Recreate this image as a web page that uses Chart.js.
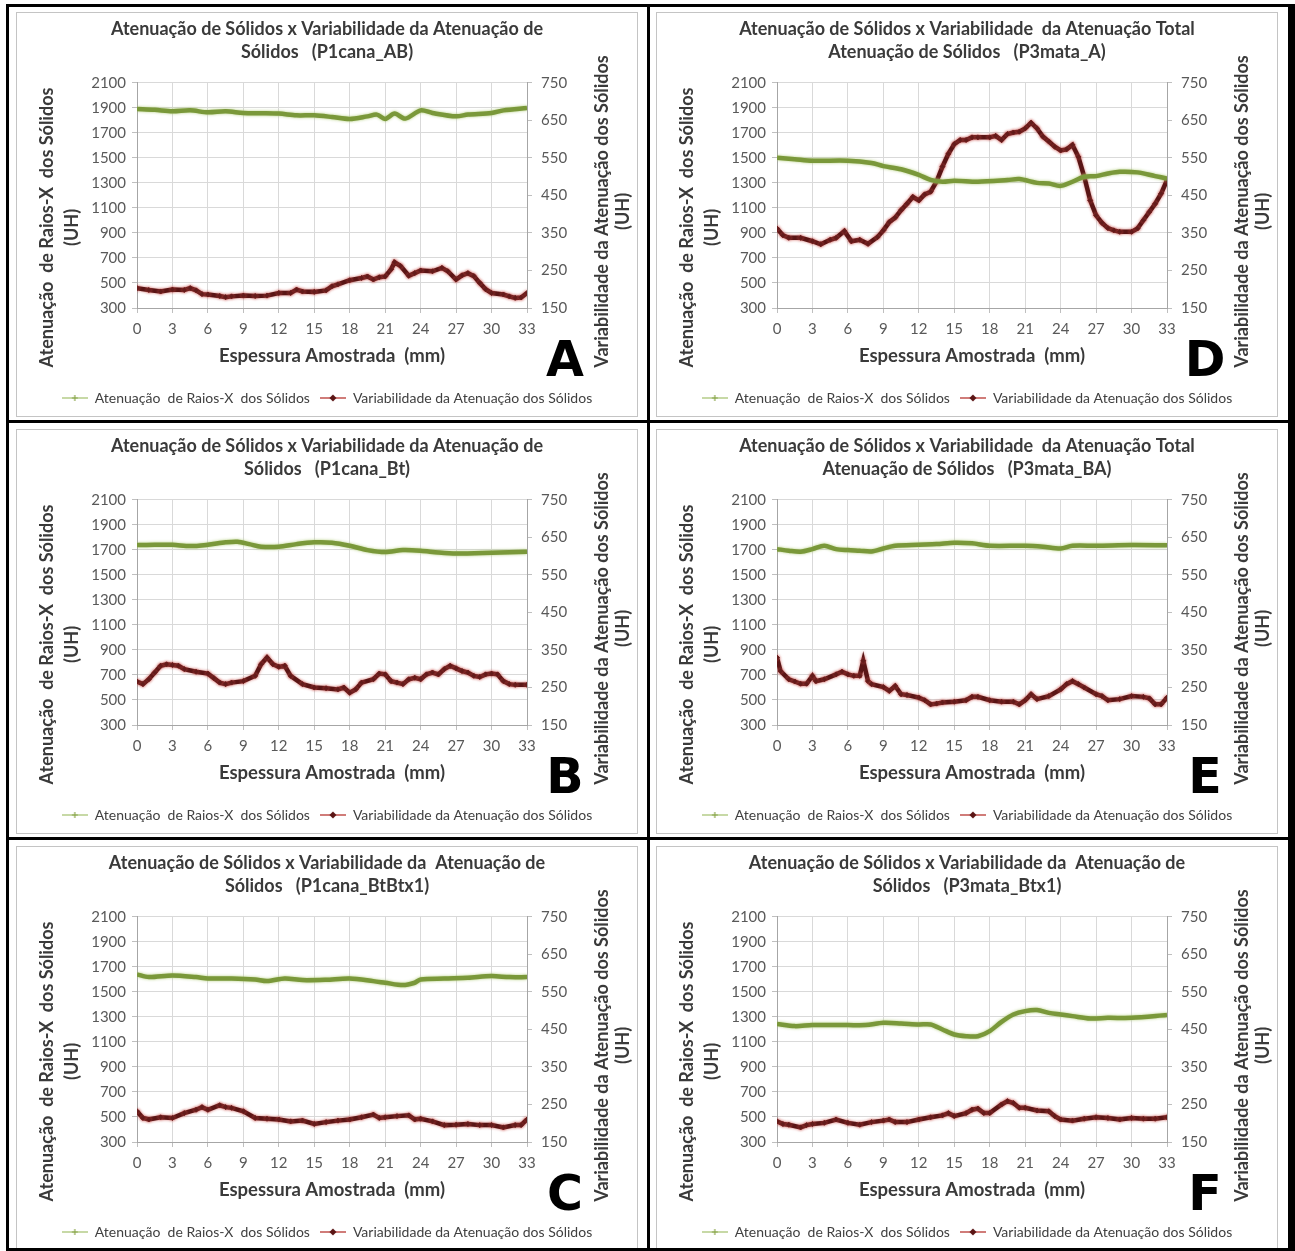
<!DOCTYPE html>
<html>
<head>
<meta charset="utf-8">
<script src="https://cdn.jsdelivr.net/npm/chart.js@4.4.1/dist/chart.umd.min.js"></script>
<style>
  body { margin: 0; background: #fff; }
  #page { position: relative; width: 1295px; height: 1251px; overflow: hidden; }
  .bl { position: absolute; background: #000; z-index: 5; }
  .box { position: absolute; width: 620px; height: 403px; border: 1px solid #c4c4c4; background: #fff; }
  .box canvas { display: block; }
</style>
</head>
<body>
<div id="page">
  <div class="bl" style="left:6px;top:4px;width:1289px;height:3px"></div>
  <div class="bl" style="left:6px;top:4px;width:3px;height:1247px"></div>
  <div class="bl" style="left:1288px;top:4px;width:7px;height:1247px"></div>
  <div class="bl" style="left:647px;top:4px;width:3px;height:1247px"></div>
  <div class="bl" style="left:6px;top:420px;width:1289px;height:3px"></div>
  <div class="bl" style="left:6px;top:837px;width:1289px;height:3px"></div>
  <div class="bl" style="left:6px;top:1248px;width:1289px;height:3px"></div>

  <div class="box" style="left:16px;top:12px"><canvas id="cA" width="620" height="403"></canvas></div>
  <div class="box" style="left:656px;top:12px"><canvas id="cD" width="620" height="403"></canvas></div>
  <div class="box" style="left:16px;top:429px"><canvas id="cB" width="620" height="403"></canvas></div>
  <div class="box" style="left:656px;top:429px"><canvas id="cE" width="620" height="403"></canvas></div>
  <div class="box" style="left:16px;top:846px"><canvas id="cC" width="620" height="403"></canvas></div>
  <div class="box" style="left:656px;top:846px"><canvas id="cF" width="620" height="403"></canvas></div>
</div>
<script>
// === Dados (verde: eixo esquerdo, vermelho: eixo direito) ===
const xTicks = [0, 3, 6, 9, 12, 15, 18, 21, 24, 27, 30, 33];
const leftTicks = [300, 500, 700, 900, 1100, 1300, 1500, 1700, 1900, 2100];
const rightTicks = [150, 250, 350, 450, 550, 650, 750];

// A - P1cana_AB
const aGreenX = [0,1.5,3,4.5,6,7.5,9,10.5,12,13.5,15,16.5,18,19.5,20.3,21,21.8,22.7,24,25,27,28,30,31,33];
const aGreen = [1892,1885,1873,1881,1865,1873,1860,1858,1855,1841,1841,1828,1812,1833,1847,1812,1855,1815,1881,1860,1833,1847,1860,1881,1900];
const aRedX = [0,1,2,3,4,4.5,5,5.5,6,7,7.5,8,9,10,11,12,13,13.5,14,15,16,16.5,17,18,19,19.5,20,20.5,21,21.5,21.8,22.3,23,23.5,24,25,25.8,26.3,27,27.5,28,28.5,29,29.5,30,31,31.5,32,32.5,33];
const aRed = [203,198,194,199,198,203,197,187,186,182,179,181,183,182,183,190,190,199,194,193,197,208,213,224,230,234,226,232,234,253,272,262,236,243,250,248,257,248,226,237,243,235,217,200,190,186,181,177,178,190];

// B - P1cana_Bt
const bGreenX = [0,1.5,3,4.5,6,7.5,8.5,9.5,10.5,12,13.5,15,16.5,18,19.5,21,22.5,24,25.5,27,30,33];
const bGreen = [1739,1742,1742,1731,1742,1761,1766,1747,1726,1726,1747,1761,1758,1734,1699,1683,1699,1694,1680,1672,1678,1686];
const bRedX = [0,0.5,1,1.5,2,2.5,3,3.5,4,5,6,6.5,7,7.5,8,9,10,10.5,11,11.5,12,12.5,13,14,15,16,17,17.5,18,18.5,19,20,20.5,21,21.5,22,22.5,23,23.5,24,24.5,25,25.5,26,26.5,27,27.5,28,28.5,29,29.5,30,30.5,31,31.5,32,33];
const bRed = [266,259,272,290,308,312,310,308,299,292,287,275,263,259,263,267,281,312,330,312,305,308,281,259,250,248,245,250,236,245,263,272,287,285,267,263,259,272,276,272,285,290,285,299,308,301,294,290,281,278,285,287,285,267,259,257,257];

// C - P1cana_BtBtx1
const cGreenX = [0,1,3,5,6,8,10,11,12.5,14,16,18,20,21,22.5,23.5,24,26,28,30,31.5,33];
const cGreen = [1640,1619,1632,1619,1608,1608,1600,1587,1608,1595,1598,1608,1587,1574,1555,1574,1600,1608,1614,1627,1619,1619];
const cRedX = [0,0.5,1,2,3,4,5,5.5,6,7,7.5,8,9,10,11,12,13,14,15,16,17,18,19,20,20.5,21,22,23,23.5,24,25,26,27,28,29,30,31,32,32.5,33];
const cRed = [232,214,210,216,214,227,236,243,236,248,243,241,232,214,212,210,205,207,198,203,207,210,216,223,214,216,219,221,210,212,205,195,196,198,195,195,189,195,195,210];

// D - P3mata_A
const dGreenX = [0,1.5,3,6,8,9,10.5,12,13,14,15,17,19.5,20.5,22,23,24,25,26,27,28,29,30.5,32,33];
const dGreen = [1502,1490,1478,1478,1460,1435,1410,1365,1325,1310,1318,1310,1323,1331,1301,1296,1277,1310,1350,1355,1376,1390,1385,1355,1336];
const dRedX = [0,0.5,1,2,3,3.7,4.5,5,5.7,6.3,7,7.7,8.5,9,9.5,10,10.5,11,11.5,12,12.5,13,13.5,14,14.5,15,15.5,16,16.5,17,18,18.5,19,19.5,20,20.5,21,21.5,22,22.5,23,23.5,24,24.5,25,25.5,26,26.5,27,27.5,28,28.5,29,30,30.5,31,31.5,32,32.5,33];
const dRed = [362,344,337,337,328,320,332,337,355,328,332,321,339,357,379,391,411,428,446,437,453,460,487,527,561,587,598,598,605,605,605,609,598,614,618,620,629,644,629,607,594,580,570,573,585,553,500,437,397,377,363,357,353,353,362,384,406,428,455,491];

// E - P3mata_BA
const eGreenX = [0,1,2,3,4,5,6,7,8,9,10,12,13.5,15,16.5,18,21,22.5,24,25,27,30,33];
const eGreen = [1707,1694,1686,1707,1734,1707,1699,1694,1688,1712,1734,1742,1747,1758,1753,1734,1734,1726,1712,1734,1734,1739,1737];
const eRedX = [0,0.3,1,1.5,2,2.5,3,3.3,4,5,5.5,6,6.5,7,7.3,7.7,8,9,9.5,10,10.5,11,12,12.5,13,13.5,14,15,16,16.5,17,18,19,20,20.5,21,21.5,22,23,24,24.5,25,25.5,26,27,27.5,28,29,30,31,31.5,32,32.5,33];
const eRed = [330,294,272,266,260,260,281,267,272,285,292,285,281,281,321,267,259,251,241,254,232,230,223,216,205,207,210,212,216,225,225,216,212,212,205,216,232,219,227,245,259,267,259,250,232,227,216,219,227,225,221,205,205,223];

// F - P3mata_Btx1
const fGreenX = [0,1.5,3,6,7.5,9,10.5,12,13,14,15,16,17,18,19,20,21,22,23,24,25,26.5,28,30,33];
const fGreen = [1245,1227,1235,1235,1235,1253,1248,1240,1240,1200,1160,1146,1146,1187,1261,1320,1347,1355,1333,1320,1307,1288,1293,1293,1315];
const fRedX = [0,0.5,1,2,2.5,3,4,5,6,7,8,9,9.5,10,11,12,13,14,14.5,15,16,16.5,17,17.5,18,19,19.5,20,20.5,21,22,23,23.5,24,25,26,27,28,29,30,31,32,33];
const fRed = [205,198,196,189,195,198,201,210,201,196,203,207,210,203,203,210,216,221,227,219,227,236,239,227,227,250,259,254,241,241,234,232,219,210,207,212,216,214,210,214,212,212,216];

const greenLabel = 'Atenuação  de Raios-X  dos Sólidos';
const redLabel = 'Variabilidade da Atenuação dos Sólidos';
const xTitle = 'Espessura Amostrada  (mm)';
const leftTitle = ['Atenuação  de Raios-X  dos Sólidos', '(UH)'];
const rightTitle = ['Variabilidade da Atenuação dos Sólidos', '(UH)'];

Chart.defaults.font.family = 'Lato, "Open Sans", sans-serif';

// ícones da legenda (linha + marcador)
function legendIcon(lineColor, markColor, mark) {
    const c = document.createElement('canvas');
    c.width = 26; c.height = 10;
    const g = c.getContext('2d');
    g.strokeStyle = lineColor; g.lineWidth = 1.5;
    g.beginPath(); g.moveTo(0, 5); g.lineTo(26, 5); g.stroke();
    g.fillStyle = markColor; g.strokeStyle = markColor;
    if (mark === 'diamond') {
        g.beginPath(); g.moveTo(13, 1.5); g.lineTo(16.5, 5); g.lineTo(13, 8.5); g.lineTo(9.5, 5); g.closePath(); g.fill();
    } else {
        g.lineWidth = 1.2;
        g.beginPath(); g.moveTo(13, 2); g.lineTo(13, 8); g.moveTo(10, 5); g.lineTo(16, 5); g.stroke();
    }
    return c;
}
const iconGreen = legendIcon('#b5cc88', '#8aa64c', 'cross');
const iconRed = legendIcon('#c0504d', '#5a1515', 'diamond');

// brilho suave atrás das linhas
const glow = {
    id: 'glow',
    beforeDatasetDraw(chart, args) {
        const ctx = chart.ctx;
        ctx.save();
        ctx.shadowColor = args.index === 0 ? 'rgba(170,200,110,0.9)' : 'rgba(200,80,75,0.75)';
        ctx.shadowBlur = 3;
    },
    afterDatasetDraw(chart) {
        chart.ctx.restore();
    }
};

// títulos dos eixos Y e letra do painel
const extras = {
    id: 'extras',
    afterDraw(chart, args, opts) {
        const ctx = chart.ctx;
        const a = chart.chartArea;
        const midY = (a.top + a.bottom) / 2;
        ctx.save();
        ctx.fillStyle = '#3a3a3a';
        ctx.font = 'bold 18px Lato';
        ctx.textAlign = 'center';
        ctx.textBaseline = 'middle';

        ctx.save();
        ctx.translate(a.left - 90, midY + 32);
        ctx.rotate(-Math.PI / 2);
        ctx.fillText(leftTitle[0], 0, 0);
        ctx.fillText(leftTitle[1], 0, 25);
        ctx.restore();

        ctx.save();
        ctx.translate(a.right + 75, midY + 16);
        ctx.rotate(-Math.PI / 2);
        ctx.fillText(rightTitle[0], 0, 0);
        ctx.fillText(rightTitle[1], 0, 21);
        ctx.restore();

        ctx.fillStyle = '#000';
        ctx.font = 'bold 49px "DejaVu Sans"';
        ctx.textBaseline = 'alphabetic';
        ctx.fillText(opts.letter, a.right + 38, a.bottom + 68);
        ctx.restore();
    }
};

function pares(xs, ys) {
    return xs.map((x, i) => ({ x: x, y: ys[i] }));
}

function criarGrafico(id, titulo, letra, gx, gy, rx, ry) {
    return new Chart(document.getElementById(id), {
        type: 'line',
        data: {
            datasets: [
                {
                    label: greenLabel, data: pares(gx, gy), yAxisID: 'y',
                    borderColor: '#7a983a', borderWidth: 4.5, pointRadius: 0, tension: 0.3
                },
                {
                    label: redLabel, data: pares(rx, ry), yAxisID: 'y2',
                    borderColor: '#5a1616', borderWidth: 4.5, tension: 0,
                    pointStyle: 'rectRot', pointRadius: 2.5, pointBackgroundColor: '#4a1010',
                    pointBorderColor: '#6e1e1e', pointBorderWidth: 1
                }
            ]
        },
        options: {
            responsive: false,
            animation: false,
            layout: { padding: { left: 0, right: 0, top: 0, bottom: 1 } },
            scales: {
                x: {
                    type: 'linear', min: 0, max: 33,
                    afterBuildTicks: s => { s.ticks = xTicks.map(v => ({ value: v })); },
                    afterFit: s => { s.height = 73; },
                    ticks: { color: '#595959', font: { size: 15 }, padding: 7, maxRotation: 0, callback: v => String(v) },
                    grid: { color: '#d9d9d9', tickLength: 5, tickColor: '#bfbfbf' },
                    border: { color: '#a6a6a6' },
                    title: {
                        display: true, text: xTitle, color: '#3a3a3a',
                        font: { size: 18.5, weight: 'bold' }, padding: { top: 0, bottom: 14 }
                    }
                },
                y: {
                    position: 'left', min: 300, max: 2100,
                    afterBuildTicks: s => { s.ticks = leftTicks.map(v => ({ value: v })); },
                    afterFit: s => { s.width = 120; },
                    ticks: { color: '#595959', font: { size: 15 }, padding: 6, callback: v => String(v) },
                    grid: { color: '#d9d9d9', tickLength: 5, tickColor: '#bfbfbf' },
                    border: { color: '#a6a6a6' }
                },
                y2: {
                    position: 'right', min: 150, max: 750,
                    afterBuildTicks: s => { s.ticks = rightTicks.map(v => ({ value: v })); },
                    afterFit: s => { s.width = 110; },
                    ticks: { color: '#595959', font: { size: 15 }, padding: 9, callback: v => String(v) },
                    grid: { drawOnChartArea: false, tickLength: 5, tickColor: '#bfbfbf' },
                    border: { color: '#a6a6a6' }
                }
            },
            plugins: {
                title: {
                    display: true, text: titulo, color: '#3a3a3a',
                    font: { size: 18, weight: 'bold', lineHeight: 1.28 },
                    padding: { top: 4.5, bottom: 19.4 }
                },
                legend: {
                    position: 'bottom',
                    labels: {
                        color: '#404040', font: { size: 14 }, padding: 10,
                        usePointStyle: true, pointStyleWidth: 26,
                        generateLabels: chart => chart.data.datasets.map((ds, i) => ({
                            text: ds.label, datasetIndex: i, hidden: false,
                            pointStyle: i === 0 ? iconGreen : iconRed,
                            fillStyle: 'rgba(0,0,0,0)', strokeStyle: 'rgba(0,0,0,0)', lineWidth: 0,
                            fontColor: '#404040'
                        }))
                    }
                },
                tooltip: { enabled: false },
                extras: { letter: letra }
            }
        },
        plugins: [glow, extras]
    });
}

criarGrafico('cA', ['Atenuação de Sólidos x Variabilidade da Atenuação de', 'Sólidos   (P1cana_AB)'], 'A', aGreenX, aGreen, aRedX, aRed);
criarGrafico('cB', ['Atenuação de Sólidos x Variabilidade da Atenuação de', 'Sólidos   (P1cana_Bt)'], 'B', bGreenX, bGreen, bRedX, bRed);
criarGrafico('cC', ['Atenuação de Sólidos x Variabilidade da  Atenuação de', 'Sólidos   (P1cana_BtBtx1)'], 'C', cGreenX, cGreen, cRedX, cRed);
criarGrafico('cD', ['Atenuação de Sólidos x Variabilidade  da Atenuação Total', 'Atenuação de Sólidos   (P3mata_A)'], 'D', dGreenX, dGreen, dRedX, dRed);
criarGrafico('cE', ['Atenuação de Sólidos x Variabilidade  da Atenuação Total', 'Atenuação de Sólidos   (P3mata_BA)'], 'E', eGreenX, eGreen, eRedX, eRed);
criarGrafico('cF', ['Atenuação de Sólidos x Variabilidade da  Atenuação de', 'Sólidos   (P3mata_Btx1)'], 'F', fGreenX, fGreen, fRedX, fRed);
</script>
</body>
</html>
